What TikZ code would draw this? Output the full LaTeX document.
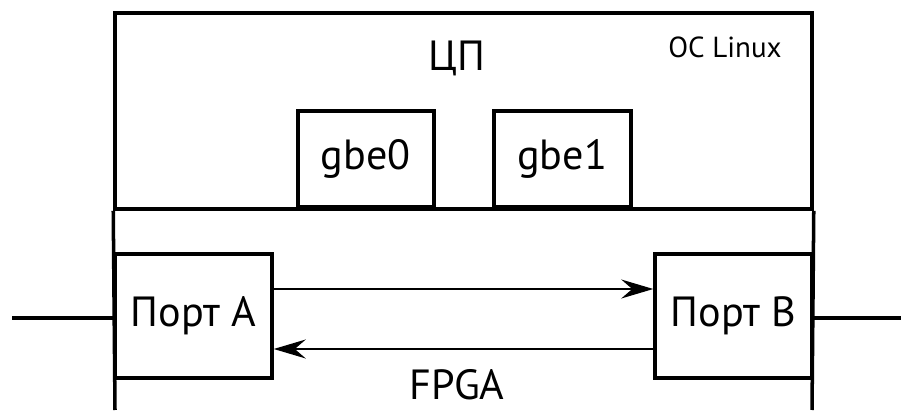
\documentclass[tikz,border=0pt]{standalone}
\usepackage{fontspec}
\setmainfont{PT Sans}
\usetikzlibrary{positioning,arrows.meta}

\begin{document}
\begin{tikzpicture}[
        blk/.style={draw, line width=2pt, inner sep=0pt, font=\fontsize{24}{27}\selectfont},
        lbl/.style={inner sep=0pt, font=\fontsize{24}{27}\selectfont},
        wire/.style={line width=2pt},
        arr/.style={-{Stealth[length=6.4mm, width=3.8mm, inset=2.2mm]}, line width=0.8pt}]
      \useasboundingbox (0,0) rectangle (18.02,8.2);
      % CPU block
      \node[blk, minimum width=13.94cm, minimum height=3.92cm] (cpu) at (9.27,5.98) {};
      \node[lbl] (cpun) at (9.14,7.04) {ЦП};
      \node[lbl, font=\fontsize{16.5}{19}\selectfont] (os) at (14.5,7.26) {ОС Linux};
      \node[blk, minimum width=2.72cm, minimum height=1.92cm, anchor=south west] (g0) at (5.92,4.02) {gbe0};
      \node[blk, minimum width=2.74cm, minimum height=1.92cm, anchor=south west] (g1) at (9.84,4.02) {gbe1};
      % FPGA block
      \draw[wire] (cpu.south west) -- (2.30,0);
      \draw[wire] (cpu.south east) -- (16.24,0);
      \node[lbl] (fpga) at (9.14,0.5) {FPGA};
      \node[blk, minimum width=3.14cm, minimum height=2.48cm] (pa) at (3.87,1.88) {Порт A};
      \node[blk, minimum width=3.14cm, minimum height=2.48cm] (pb) at (14.67,1.88) {Порт B};
      \coordinate (l) at (0.24,1.84);
      \coordinate (r) at (18.02,1.84);
      \draw[wire] (l) -- (l -| pa.west);
      \draw[wire] (r -| pb.east) -- (r);
      \draw[arr] ([yshift=0.54cm]pa.east) -- ([yshift=0.54cm]pb.west);
      \draw[arr] ([yshift=-0.66cm]pb.west) -- ([yshift=-0.66cm]pa.east);
      \end{tikzpicture}
\end{document}
